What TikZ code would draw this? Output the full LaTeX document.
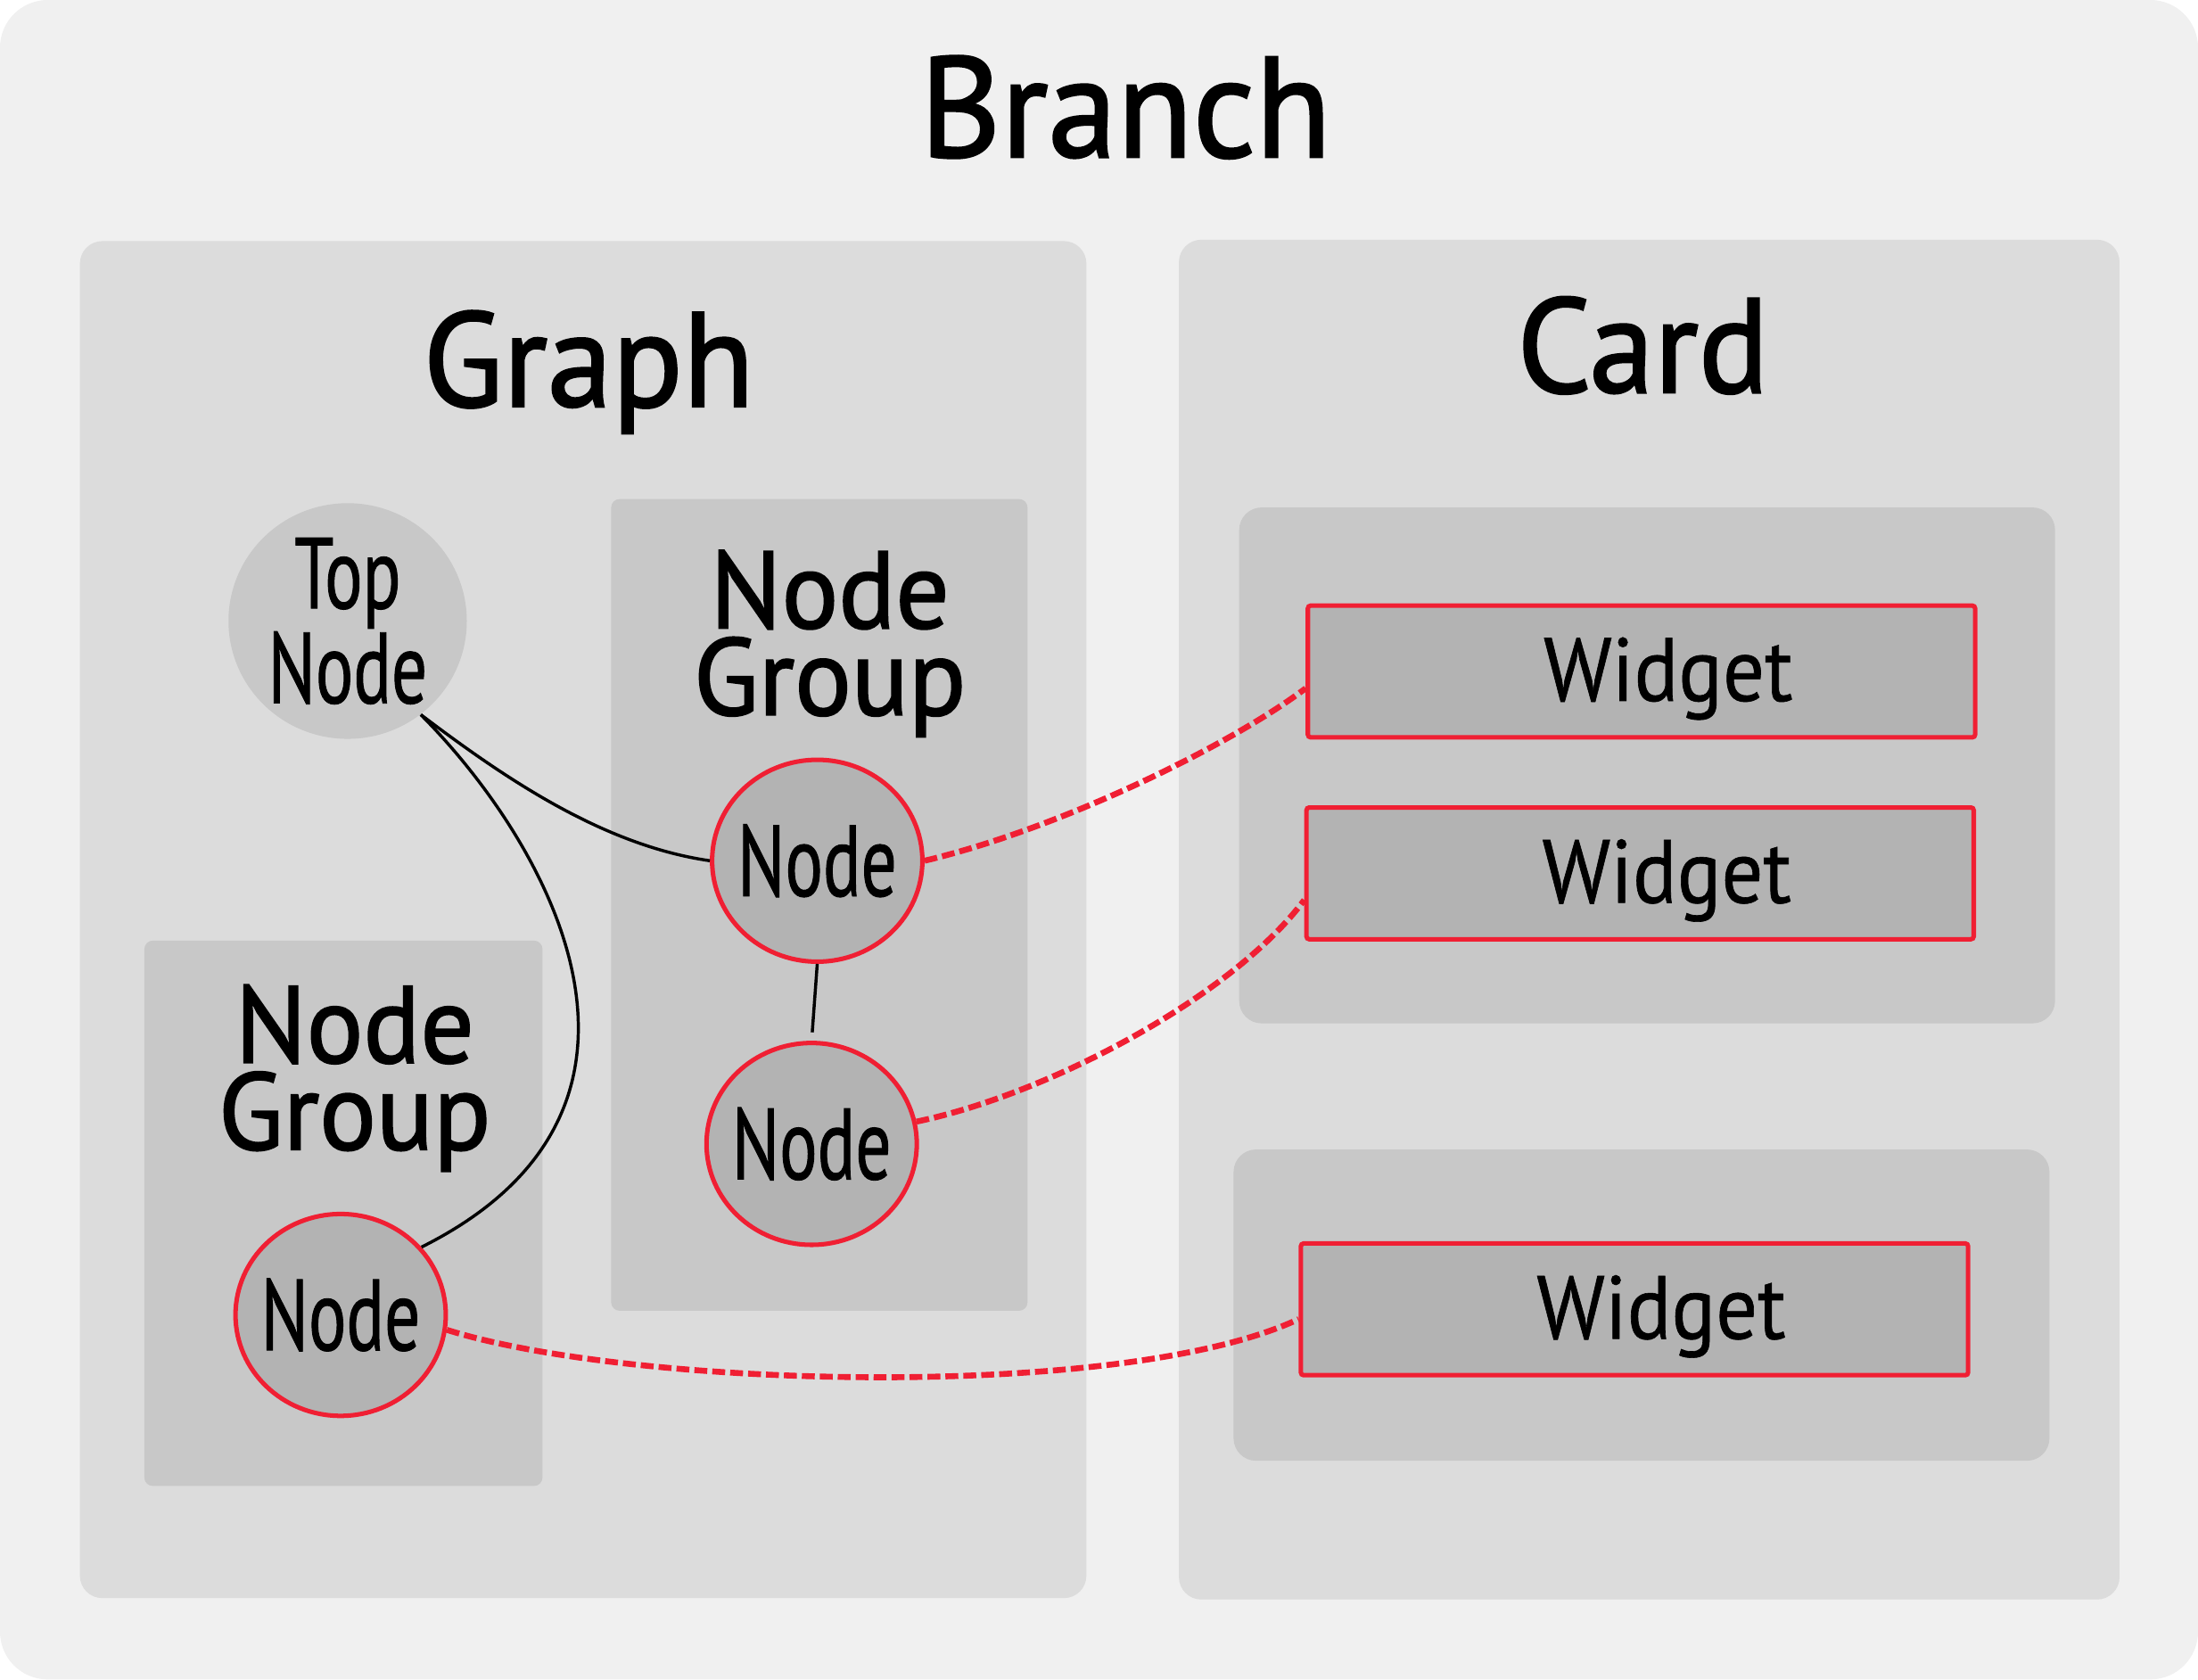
\documentclass[tikz,border=0pt]{standalone}
\usepackage{fontspec}
\setmainfont{PT Sans}
\newfontfamily\titlefont[FakeStretch=0.97,FakeBold=1.6]{PT Sans}
\newfontfamily\narrowfont[FakeStretch=0.7,FakeBold=0.8]{PT Sans}
\newfontfamily\widgetfont[FakeStretch=0.92,FakeBold=0.6]{PT Sans}
\usetikzlibrary{shapes.geometric,positioning}

\definecolor{branchbg}{HTML}{F0F0F0}
\definecolor{panelbg}{HTML}{DCDCDC}
\definecolor{groupbg}{HTML}{C8C8C8}
\definecolor{nodebg}{HTML}{B3B3B3}
\definecolor{linkred}{HTML}{F01F33}

\begin{document}
\begin{tikzpicture}[x=0.5pt,y=-0.5pt,
    title/.style = {font=\titlefont\fontsize{51}{51}\selectfont, anchor=base, inner sep=0pt},
    heading/.style = {font=\titlefont\fontsize{48}{48}\selectfont, anchor=base, inner sep=0pt},
    grouptitle/.style = {font=\titlefont\fontsize{39}{31}\selectfont, align=center, anchor=base, inner sep=0pt},
    topnode/.style = {ellipse, fill=groupbg, minimum width=85pt, minimum height=81pt, inner sep=0pt, align=center, font=\narrowfont\fontsize{36}{29.5}\selectfont},
    gnode/.style = {ellipse, fill=nodebg, draw=linkred, line width=1.6pt, minimum width=75pt, minimum height=72pt, inner sep=0pt, font=\narrowfont\fontsize{36}{36}\selectfont},
    widget/.style = {rectangle, rounded corners=1pt, fill=nodebg, draw=linkred, line width=1.6pt, minimum width=238pt, minimum height=47pt, inner sep=0pt, text depth=1.7pt, font=\widgetfont\fontsize{32}{32}\selectfont},
    link/.style = {black, line width=1.1pt},
    wire/.style = {linkred, line width=2.1pt, dash pattern=on 4.6pt off 1.8pt}]
    \useasboundingbox (0,0) rectangle (1568,1198);
    % containers
    \fill[branchbg, rounded corners=17pt] (0,0) rectangle (1568,1198);
    \fill[panelbg, rounded corners=8pt] (57,172) rectangle (775,1140);
    \fill[panelbg, rounded corners=8pt] (841,171) rectangle (1512,1141);
    \fill[groupbg, rounded corners=3pt] (436,356) rectangle (733,935);
    \fill[groupbg, rounded corners=3pt] (103,671) rectangle (387,1060);
    \fill[groupbg, rounded corners=8pt] (884,362) rectangle (1466,730);
    \fill[groupbg, rounded corners=8pt] (880,820) rectangle (1462,1042);
    % titles
    \node[title] (branch) at (803,112) {Branch};
    \node[heading] (graph) at (420,290) {Graph};
    \node[heading] (card) at (1172,280) {Card};
    \node[grouptitle] (grpA) at (592,510) {Node\\Group};
    \node[grouptitle] (grpC) at (253,820) {Node\\Group};
    % nodes
    \node[topnode] (top) at (248,443) {\makebox[0pt]{Top}\\\makebox[0pt]{Node}};
    \node[gnode] (a) at (583,614) {\makebox[0pt]{Node}};
    \node[gnode] (b) at (579,816) {\makebox[0pt]{Node}};
    \node[gnode] (c) at (243,938) {\makebox[0pt]{Node}};
    \node[widget] (w1) at (1171,479) {\hspace*{19pt}Widget};
    \node[widget] (w2) at (1170,623) {\hspace*{19pt}Widget};
    \node[widget] (w3) at (1166,934) {\hspace*{19pt}Widget};
    % connectors
    \draw[link] (top.-52) .. controls (360,555) and (430,603) .. (a.west);
    \draw[link] (top.-52) .. controls (390,600) and (500,790) .. (c.40);
    \draw[link, shorten >=3pt] (a.south) -- (b.north);
    \draw[wire] (a.east) .. controls (760,590) and (880,530) .. ([yshift=-6pt]w1.west);
    \draw[wire] (b.12) .. controls (750,780) and (880,710) .. ([yshift=-9.5pt]w2.west);
    \draw[wire] (c.-8) .. controls (450,990) and (800,1000) .. ([yshift=-3.5pt]w3.west);
\end{tikzpicture}
\end{document}
